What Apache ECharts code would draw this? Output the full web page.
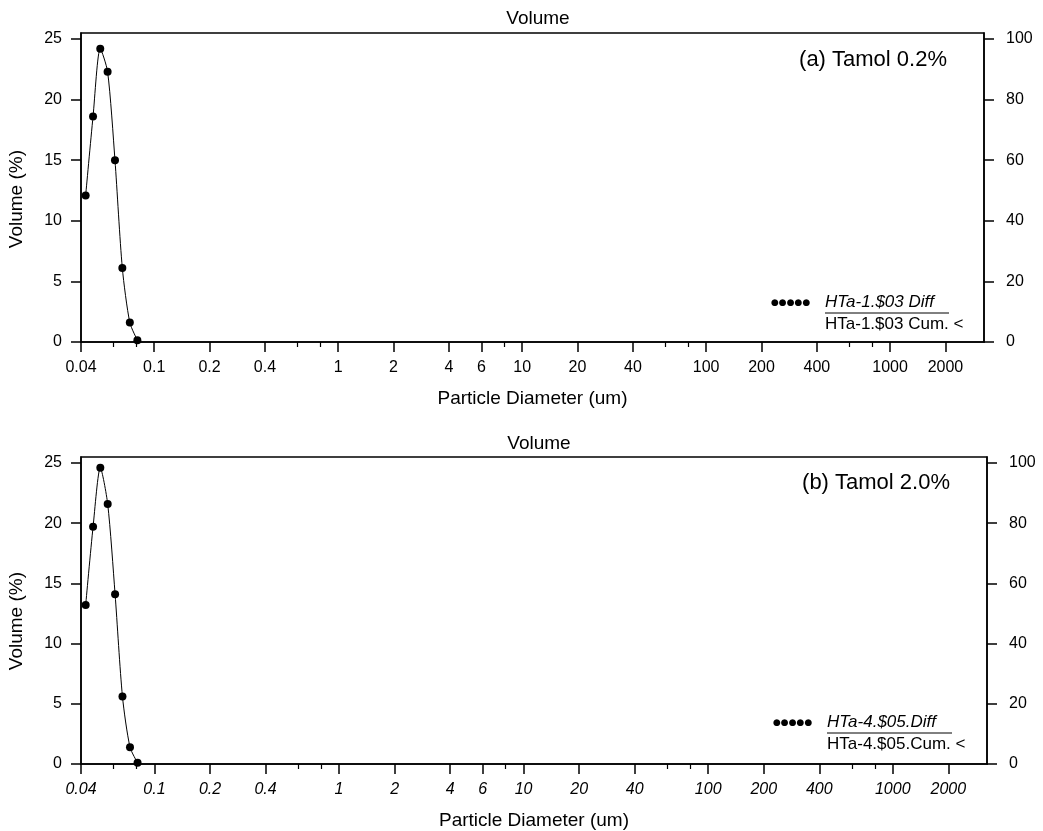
<!DOCTYPE html>
<html>
<head>
<meta charset="utf-8">
<title>Volume</title>
<script src="https://cdn.jsdelivr.net/npm/echarts@6/dist/echarts.min.js"></script>
<style>
html,body{margin:0;padding:0;background:#fff;}
#chart{width:1043px;height:831px;}
</style>
</head>
<body>
<div id="chart"></div>
<script>
// particle size bins (um) and volume (%) for both samples
var diameters = [0.0424, 0.0465, 0.0509, 0.0558, 0.0612, 0.0671, 0.0737, 0.0810];
var volumeA = [12.1, 18.6, 24.2, 22.3, 15.0, 6.1, 1.6, 0.15];
var volumeB = [13.2, 19.7, 24.6, 21.6, 14.1, 5.6, 1.4, 0.1];
var xLabels = [0.04, 0.1, 0.2, 0.4, 1, 2, 4, 6, 10, 20, 40, 100, 200, 400, 1000, 2000];
var xMinor = [0.06, 0.08, 0.6, 0.8, 8, 60, 80, 600, 800];
var yLeftTicks = [0, 5, 10, 15, 20, 25];
var yRightTicks = [0, 20, 40, 60, 80, 100];

var font = 'Liberation Sans, Arial, sans-serif';
var xMin = 0.04, xMax = 3240;

function pairs(vals) {
    var out = [];
    for (var i = 0; i < diameters.length; i++) {
        out.push([diameters[i], vals[i]]);
    }
    return out;
}

function fmt(v) {
    return String(+(+v).toPrecision(6));
}

function mainX(grid, italic) {
    return {
        type: 'log', gridIndex: grid, min: xMin, max: xMax,
        name: 'Particle Diameter (um)', nameLocation: 'middle', nameGap: 47,
        nameTextStyle: {color: '#000', fontSize: 19, fontFamily: font},
        axisLine: {show: true, lineStyle: {color: '#000', width: 1.5}},
        axisTick: {show: true, inside: false, length: 10, customValues: xLabels,
            lineStyle: {color: '#000', width: 1.5}},
        axisLabel: {show: true, margin: 18, customValues: xLabels, formatter: fmt,
            color: '#000', fontSize: 16, fontFamily: font,
            fontStyle: italic ? 'italic' : 'normal'},
        minorTick: {show: false},
        splitLine: {show: false}
    };
}

function minorX(grid) {
    return {
        type: 'log', gridIndex: grid, min: xMin, max: xMax, position: 'bottom',
        axisLine: {show: false},
        axisTick: {show: true, inside: false, length: 5, customValues: xMinor,
            lineStyle: {color: '#000', width: 1.2}},
        axisLabel: {show: false, customValues: xMinor},
        splitLine: {show: false}
    };
}

function leftY(grid) {
    return {
        type: 'value', gridIndex: grid, min: 0, max: 25.5, interval: 5,
        axisLine: {show: true, lineStyle: {color: '#000', width: 1.5}},
        axisTick: {show: true, inside: false, length: 10, customValues: yLeftTicks,
            lineStyle: {color: '#000', width: 1.5}},
        axisLabel: {margin: 19, color: '#000', fontSize: 16, fontFamily: font,
            customValues: yLeftTicks},
        splitLine: {show: false}
    };
}

function rightY(grid) {
    return {
        type: 'value', gridIndex: grid, min: 0, max: 102, interval: 20, position: 'right',
        axisLine: {show: true, lineStyle: {color: '#000', width: 1.5}},
        axisTick: {show: true, inside: false, length: 10, customValues: yRightTicks,
            lineStyle: {color: '#000', width: 1.5}},
        axisLabel: {margin: 22, color: '#000', fontSize: 16, fontFamily: font,
            customValues: yRightTicks},
        splitLine: {show: false}
    };
}

function diffSeries(xi, yi, vals) {
    return {
        type: 'line', xAxisIndex: xi, yAxisIndex: yi, data: pairs(vals),
        smooth: 0.25, symbol: 'circle', symbolSize: 8,
        itemStyle: {color: '#000'},
        lineStyle: {color: '#000', width: 1},
        silent: true, animation: false
    };
}

function legendBlock(x, yMid, diffText, cumText, lineEnd) {
    return [
        {type: 'text', left: x - 54, top: yMid - 5,
            style: {text: '●●●●●', fontSize: 9, fill: '#000', fontFamily: 'DejaVu Sans'}},
        {type: 'text', left: x, top: yMid - 9,
            style: {text: diffText, fontSize: 17, fill: '#000', fontFamily: font,
                fontStyle: 'italic'}},
        {type: 'line', shape: {x1: x, y1: yMid + 10, x2: lineEnd, y2: yMid + 10},
            style: {stroke: '#000', lineWidth: 1}},
        {type: 'text', left: x, top: yMid + 13,
            style: {text: cumText, fontSize: 17, fill: '#000', fontFamily: font}}
    ];
}

function yName(yMid) {
    return {type: 'text', left: 7, top: yMid - 51, rotation: Math.PI / 2,
        originX: 0, originY: 0,
        style: {text: 'Volume (%)', fontSize: 19, fill: '#000', fontFamily: font}};
}

var chart = echarts.init(document.getElementById('chart'));
var option = {
    backgroundColor: '#fff',
    animation: false,
    title: [
        {text: 'Volume', left: 533, top: 4, textAlign: 'center',
            textStyle: {color: '#000', fontSize: 19, fontWeight: 'normal', fontFamily: font}},
        {text: 'Volume', left: 534, top: 429, textAlign: 'center',
            textStyle: {color: '#000', fontSize: 19, fontWeight: 'normal', fontFamily: font}}
    ],
    grid: [
        {left: 81, top: 33, width: 903, height: 309, show: true, borderColor: '#000',
            borderWidth: 1.5, backgroundColor: 'transparent'},
        {left: 81, top: 457, width: 906, height: 307, show: true, borderColor: '#000',
            borderWidth: 1.5, backgroundColor: 'transparent'}
    ],
    xAxis: [mainX(0, false), mainX(1, true), minorX(0), minorX(1)],
    yAxis: [leftY(0), leftY(1), rightY(0), rightY(1)],
    series: [
        diffSeries(0, 0, volumeA),
        diffSeries(1, 1, volumeB)
    ],
    graphic: [
        yName(201),
        yName(623),
        {type: 'text', right: 1043 - 947, top: 49,
            style: {text: '(a) Tamol 0.2%', fontSize: 22, fill: '#000', fontFamily: font}},
        {type: 'text', right: 1043 - 950, top: 472,
            style: {text: '(b) Tamol 2.0%', fontSize: 22, fill: '#000', fontFamily: font}}
    ].concat(
        legendBlock(825, 303, 'HTa-1.$03 Diff', 'HTa-1.$03 Cum. <', 949),
        legendBlock(827, 723, 'HTa-4.$05.Diff', 'HTa-4.$05.Cum. <', 952)
    )
};
chart.setOption(option);
</script>
</body>
</html>
